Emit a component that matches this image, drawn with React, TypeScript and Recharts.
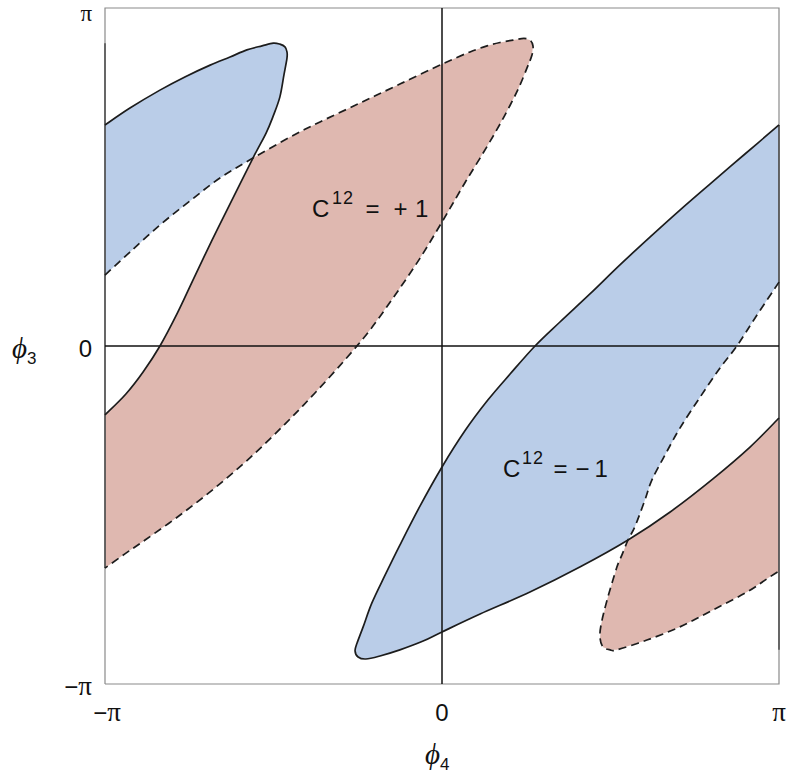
import React from "react";
import { ComposedChart, Scatter, XAxis, YAxis, Label } from "recharts";

const PI = Math.PI;
type Pt = [number, number];

// boundary curves, in units of pi, as [phi4, phi3]
// solid = edge of the C12 = -1 band, dashed = edge of the C12 = +1 band
const solidA: Pt[] = [
  [-1, 0.654], [-0.926, 0.704], [-0.837, 0.757], [-0.763, 0.796], [-0.688, 0.831],
  [-0.629, 0.855], [-0.579, 0.876], [-0.534, 0.888], [-0.501, 0.896], [-0.481, 0.893],
  [-0.466, 0.885], [-0.46, 0.87], [-0.46, 0.852], [-0.469, 0.802], [-0.481, 0.737],
  [-0.501, 0.68], [-0.522, 0.63], [-0.561, 0.556],
];
const solidB: Pt[] = [
  [-0.561, 0.556], [-0.623, 0.432], [-0.682, 0.314], [-0.739, 0.195], [-0.785, 0.098],
  [-0.837, 0], [-0.887, -0.077], [-0.938, -0.142], [-1, -0.204],
];
const dashedA: Pt[] = [
  [-1, 0.21], [-0.926, 0.278], [-0.837, 0.358], [-0.748, 0.429], [-0.659, 0.497], [-0.561, 0.556],
];
const dashedB: Pt[] = [
  [-0.561, 0.556], [-0.451, 0.618], [-0.362, 0.663], [-0.243, 0.719], [-0.125, 0.775],
  [0, 0.834], [0.083, 0.87], [0.134, 0.888], [0.172, 0.898], [0.211, 0.905],
  [0.243, 0.91], [0.261, 0.905], [0.27, 0.888], [0.267, 0.861], [0.252, 0.822],
  [0.226, 0.76], [0.193, 0.695], [0.157, 0.63], [0.113, 0.556], [0.071, 0.488],
  [0.033, 0.423], [0, 0.367], [-0.065, 0.26], [-0.139, 0.151], [-0.214, 0.047],
  [-0.288, -0.041], [-0.377, -0.139], [-0.466, -0.231], [-0.57, -0.331], [-0.674, -0.42],
  [-0.777, -0.5], [-0.881, -0.574], [-0.941, -0.615], [-1, -0.657],
];
const solidC: Pt[] = [
  [1, 0.654], [0.899, 0.568], [0.795, 0.479], [0.706, 0.402], [0.617, 0.322],
  [0.528, 0.24], [0.439, 0.154], [0.35, 0.071], [0.276, 0], [0.202, -0.083],
  [0.136, -0.16], [0.068, -0.251], [0, -0.358], [-0.065, -0.473], [-0.125, -0.589],
  [-0.169, -0.678], [-0.208, -0.76], [-0.234, -0.831], [-0.252, -0.879], [-0.258, -0.902],
  [-0.249, -0.92], [-0.226, -0.926], [-0.184, -0.917], [-0.125, -0.899], [-0.056, -0.873],
  [0, -0.846], [0.113, -0.793], [0.261, -0.728], [0.409, -0.654], [0.552, -0.574],
];
const solidD: Pt[] = [
  [0.552, -0.574], [0.677, -0.491], [0.804, -0.393], [0.914, -0.299], [1, -0.213],
];
const dashedC: Pt[] = [
  [1, 0.189], [0.929, 0.083], [0.875, 0], [0.825, -0.065], [0.766, -0.151],
  [0.706, -0.243], [0.662, -0.322], [0.623, -0.396], [0.602, -0.456], [0.573, -0.533],
  [0.552, -0.574],
];
const dashedD: Pt[] = [
  [0.552, -0.574], [0.534, -0.618], [0.519, -0.654], [0.49, -0.751], [0.472, -0.825],
  [0.469, -0.864], [0.478, -0.891], [0.499, -0.899], [0.519, -0.899], [0.608, -0.87],
  [0.706, -0.831], [0.804, -0.781], [0.905, -0.728], [0.973, -0.683], [1, -0.666],
];

const piTicks = [-PI, 0, PI];
const regionLabels = [
  { x: -0.386 * PI, y: 0.383 * PI, sign: "+", spacing: [20, 53.5, 81.5, 103] },
  { x: 0.181 * PI, y: -0.387 * PI, sign: "\u2212", spacing: [19, 50.5, 72.5, 91.5] },
];

const BLUE = "#bacde8";
const RED = "#dfb8b0";
const INK = "#1c1c1c";
const SANS = "'Liberation Sans', Arial, Helvetica, sans-serif";
const SERIF = "'Liberation Serif', 'Times New Roman', serif";

const toData = (pts: Pt[]) => pts.map(([x, y]) => ({ x: x * PI, y: y * PI }));
const rev = (pts: Pt[]) => [...pts].reverse();

const blueTop = toData([...solidA, ...rev(dashedA)]);
const redTop = toData([...dashedB, ...rev(solidB)]);
const blueBottom = toData([...solidC, ...rev(dashedC)]);
const redBottom = toData([...solidD, ...rev(dashedD)]);

const solidLeft = toData([...solidA, ...solidB.slice(1)]);
const dashedLeft = toData([...dashedA, ...dashedB.slice(1)]);
const solidRight = toData([...solidC, ...solidD.slice(1)]);
const dashedRight = toData([...dashedC, ...dashedD.slice(1)]);

const frame = toData([[-1, -1], [-1, 1], [1, 1], [1, -1], [-1, -1]]);
const leftDark = toData([[-1, dashedB[dashedB.length - 1][1]], [-1, Math.max(...solidA.map((p) => p[1]))]]);
const rightDark = toData([[1, Math.min(...dashedD.map((p) => p[1]))], [1, solidC[0][1]]]);
const hAxis = toData([[-1, 0], [1, 0]]);
const vAxis = toData([[0, -1], [0, 1]]);

type XY = { x: number; y: number };

const polyPath = (pts: XY[]) =>
  pts.map((p, i) => `${i ? "L" : "M"}${p.x},${p.y}`).join("") + "Z";

// catmull-rom through the points, as cubic beziers
const smoothPath = (pts: XY[]) => {
  let d = `M${pts[0].x},${pts[0].y}`;
  for (let i = 0; i < pts.length - 1; i++) {
    const p0 = pts[i - 1] || pts[i];
    const p1 = pts[i];
    const p2 = pts[i + 1];
    const p3 = pts[i + 2] || p2;
    const c1x = p1.x + (p2.x - p0.x) / 6;
    const c1y = p1.y + (p2.y - p0.y) / 6;
    const c2x = p2.x - (p3.x - p1.x) / 6;
    const c2y = p2.y - (p3.y - p1.y) / 6;
    d += `C${c1x},${c1y} ${c2x},${c2y} ${p2.x},${p2.y}`;
  }
  return d;
};

const noDot = () => <g />;
const fillWith = (color: string) => (p: any) => <path d={polyPath(p.points)} fill={color} stroke="none" />;
const strokeWith = (dash?: string) => (p: any) => (
  <path d={smoothPath(p.points)} fill="none" stroke={INK} strokeWidth={1.7} strokeDasharray={dash} strokeLinejoin="round" />
);
const plainLine = (color: string, width: number) => (p: any) => (
  <path d={polyPath(p.points).slice(0, -1)} fill="none" stroke={color} strokeWidth={width} />
);

function PiText({ value, size = 27 }: { value: number; size?: number }) {
  if (value === 0) return <tspan>0</tspan>;
  return (
    <>
      {value < 0 && <tspan>{"\u2212"}</tspan>}
      <tspan fontFamily={SERIF} fontSize={size}>{"\u03c0"}</tspan>
    </>
  );
}

function XTick({ x, y, payload }: any) {
  return (
    <text x={x + (payload.value < 0 ? 2 : 0)} y={y + 37} textAnchor="middle" fontFamily={SANS} fontSize={24} fill="#111">
      <PiText value={payload.value} />
    </text>
  );
}

function YTick({ x, y, payload }: any) {
  const top = payload.value > 0;
  return (
    <text x={x - 13} y={y + (top ? 13 : 11)} textAnchor="end" fontFamily={SANS} fontSize={top ? 20 : 24} fill="#111">
      <PiText value={payload.value} size={top ? 23 : 27} />
    </text>
  );
}

function AxisTitle({ tx, ty, sub }: { tx: number; ty: number; sub: string }) {
  return (
    <text x={tx} y={ty} fill="#111">
      <tspan fontFamily={SERIF} fontStyle="italic" fontSize={29}>{"\u03d5"}</tspan>
      <tspan fontFamily={SANS} fontSize={17} dy={6}>{sub}</tspan>
    </text>
  );
}

function RegionLabel({ cx, cy, payload }: any) {
  const [s1, s2, s3, s4] = payload.spacing;
  return (
    <text x={cx} y={cy} fontFamily={SANS} fontSize={24} fill="#111">
      <tspan x={cx}>C</tspan>
      <tspan x={cx + s1} dy={-13} fontSize={18} letterSpacing={1}>12</tspan>
      <tspan x={cx + s2} dy={13}>=</tspan>
      <tspan x={cx + s3}>{payload.sign}</tspan>
      <tspan x={cx + s4}>1</tspan>
    </text>
  );
}

export default function App() {
  return (
    <div style={{ position: "absolute", left: 0, top: 0, width: 788, height: 773 }}>
      <ComposedChart width={788} height={773} margin={{ top: 8, right: 9, bottom: 39, left: 45 }}>
        <XAxis
          type="number"
          dataKey="x"
          domain={[-PI, PI]}
          ticks={piTicks}
          interval={0}
          axisLine={false}
          tickLine={false}
          tickSize={0}
          tickMargin={0}
          height={50}
          tick={<XTick />}
        >
          <Label content={(p: any) => <AxisTitle tx={p.viewBox.x + p.viewBox.width / 2 - 17} ty={p.viewBox.y + 80} sub="4" />} />
        </XAxis>
        <YAxis
          type="number"
          dataKey="y"
          domain={[-PI, PI]}
          ticks={piTicks}
          interval={0}
          axisLine={false}
          tickLine={false}
          tickSize={0}
          tickMargin={0}
          width={60}
          tick={<YTick />}
        >
          <Label content={(p: any) => <AxisTitle tx={p.viewBox.x - 33} ty={p.viewBox.y + p.viewBox.height / 2 + 12} sub="3" />} />
        </YAxis>

        <Scatter data={blueTop} shape={noDot} line={fillWith(BLUE)} isAnimationActive={false} />
        <Scatter data={redTop} shape={noDot} line={fillWith(RED)} isAnimationActive={false} />
        <Scatter data={blueBottom} shape={noDot} line={fillWith(BLUE)} isAnimationActive={false} />
        <Scatter data={redBottom} shape={noDot} line={fillWith(RED)} isAnimationActive={false} />

        <Scatter data={frame} shape={noDot} line={plainLine("#8a8a8a", 1.2)} isAnimationActive={false} />
        <Scatter data={leftDark} shape={noDot} line={plainLine("#444", 1.4)} isAnimationActive={false} />
        <Scatter data={rightDark} shape={noDot} line={plainLine("#444", 1.4)} isAnimationActive={false} />
        <Scatter data={hAxis} shape={noDot} line={plainLine("#111", 1.5)} isAnimationActive={false} />
        <Scatter data={vAxis} shape={noDot} line={plainLine("#111", 1.5)} isAnimationActive={false} />

        <Scatter data={solidLeft} shape={noDot} line={strokeWith()} isAnimationActive={false} />
        <Scatter data={solidRight} shape={noDot} line={strokeWith()} isAnimationActive={false} />
        <Scatter data={dashedLeft} shape={noDot} line={strokeWith("8 5")} isAnimationActive={false} />
        <Scatter data={dashedRight} shape={noDot} line={strokeWith("8 5")} isAnimationActive={false} />

        <Scatter data={regionLabels} shape={<RegionLabel />} isAnimationActive={false} />
      </ComposedChart>
    </div>
  );
}
